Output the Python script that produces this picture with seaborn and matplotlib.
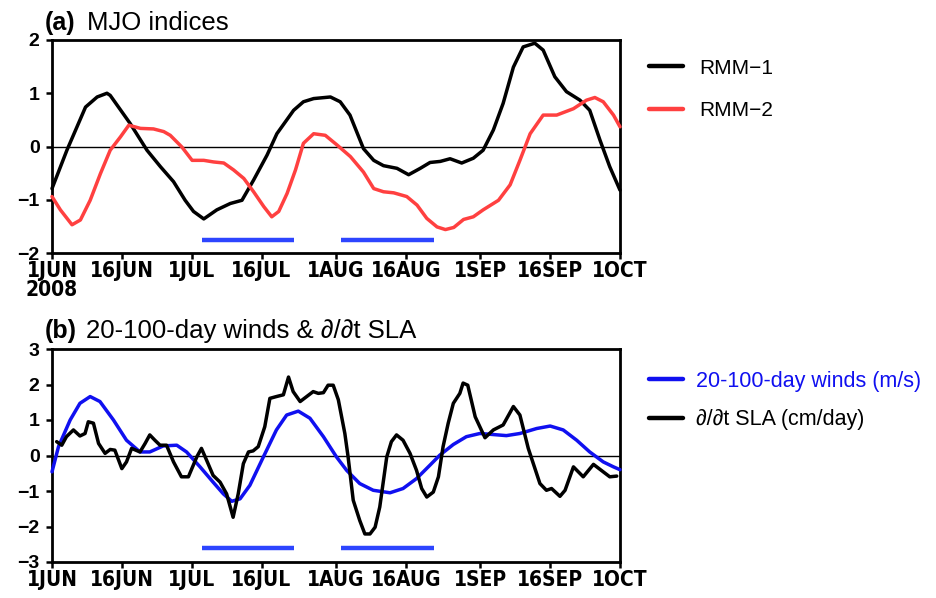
import numpy as np
import pandas as pd
import matplotlib
matplotlib.use("Agg")
import matplotlib.pyplot as plt
import seaborn as sns
from matplotlib import font_manager

# ---------------- data (days since 1 Jun 2008) ----------------
rmm1_day = [0, 3.2, 7.2, 9.7, 11.8, 12.5, 16.8, 20.4, 23.3, 26.1, 28.6, 30.4, 32.6, 35.4,
            38.3, 40.8, 43.3, 46.2, 48.3, 51.9, 54.0, 56.2, 59.8, 61.9, 64.0, 66.9, 69.1,
            71.2, 74.1, 76.6, 79.1, 81.2, 83.4, 85.5, 88.0, 90.5, 92.6, 94.8, 96.9, 99.1,
            101.2, 103.7, 105.5, 108.0, 110.5, 113.4, 115.5, 117.7, 119.8, 122]
rmm1_val = [-0.79, -0.07, 0.74, 0.93, 1.0, 0.96, 0.43, -0.07, -0.38, -0.66, -1.01, -1.22,
            -1.36, -1.19, -1.07, -1.01, -0.63, -0.16, 0.24, 0.68, 0.84, 0.90, 0.93, 0.84,
            0.59, -0.04, -0.26, -0.36, -0.41, -0.53, -0.41, -0.30, -0.28, -0.23, -0.31,
            -0.22, -0.07, 0.31, 0.81, 1.49, 1.87, 1.94, 1.81, 1.31, 1.03, 0.87, 0.68, 0.12,
            -0.38, -0.82]

rmm2_day = [0, 1.8, 4.3, 6.1, 8.2, 10.4, 12.5, 14.7, 16.5, 19.0, 21.8, 24.0, 25.4, 27.9,
            30.1, 32.6, 34.7, 36.9, 39.0, 41.2, 43.3, 45.5, 47.2, 48.7, 50.5, 52.3, 54.0,
            56.2, 58.7, 61.2, 64.1, 66.9, 69.1, 71.2, 73.4, 76.2, 78.4, 80.5, 82.7, 84.5,
            86.3, 88.4, 90.5, 92.6, 95.9, 98.4, 100.5, 102.7, 105.5, 108.4, 112.0, 114.8,
            116.6, 118.4, 120.6, 122]
rmm2_val = [-0.94, -1.19, -1.47, -1.38, -1.01, -0.51, -0.07, 0.18, 0.40, 0.34, 0.33, 0.28,
            0.21, -0.01, -0.26, -0.26, -0.29, -0.31, -0.44, -0.60, -0.85, -1.13, -1.32,
            -1.22, -0.88, -0.44, 0.06, 0.24, 0.21, 0.03, -0.19, -0.48, -0.79, -0.85, -0.87,
            -0.94, -1.10, -1.35, -1.51, -1.56, -1.52, -1.37, -1.32, -1.19, -1.01, -0.72,
            -0.26, 0.24, 0.59, 0.59, 0.71, 0.87, 0.92, 0.84, 0.59, 0.37]

wind_day = [0, 1.4, 3.9, 6.0, 8.2, 10.3, 13.2, 16.0, 18.9, 21.0, 23.9, 26.8, 28.9, 31.8,
            34.6, 36.8, 38.6, 40.4, 42.5, 45.4, 48.2, 50.4, 52.9, 55.4, 58.3, 61.1, 63.3,
            66.1, 69.0, 72.6, 75.4, 78.3, 81.2, 83.3, 86.2, 89.0, 91.9, 94.8, 97.6, 100.5,
            104.1, 107.0, 109.8, 112.7, 115.5, 118.4, 120.6, 122]
wind_val = [-0.46, 0.25, 1.0, 1.47, 1.66, 1.52, 1.0, 0.43, 0.10, 0.10, 0.27, 0.29, 0.10,
            -0.32, -0.75, -1.08, -1.29, -1.22, -0.84, -0.04, 0.72, 1.14, 1.25, 1.05, 0.53,
            -0.04, -0.42, -0.79, -0.98, -1.05, -0.93, -0.65, -0.27, 0.01, 0.31, 0.53, 0.62,
            0.59, 0.56, 0.62, 0.76, 0.83, 0.72, 0.43, 0.10, -0.18, -0.32, -0.40]

sla_day = [1.0, 2.1, 3.1, 4.6, 6.0, 7.1, 7.8, 8.9, 10.0, 11.4, 12.5, 13.5, 15.0, 16.0,
           17.1, 18.9, 20.0, 21.0, 22.1, 23.2, 24.6, 26.1, 27.8, 29.3, 31.1, 32.1, 33.2,
           34.6, 36.1, 37.5, 38.9, 40.0, 41.1, 42.2, 43.2, 44.3, 45.7, 46.8, 48.2, 49.7,
           50.8, 51.8, 53.3, 54.7, 56.1, 57.2, 58.3, 59.3, 60.4, 61.5, 62.9, 63.6, 64.7,
           66.1, 67.2, 68.3, 69.4, 70.4, 71.9, 72.9, 74.0, 75.4, 76.9, 78.3, 79.4, 80.5,
           81.9, 83.0, 84.0, 85.1, 86.2, 87.6, 88.3, 89.3, 90.9, 93.0, 94.8, 96.9, 99.1,
           100.5, 102.3, 104.8, 106.2, 107.3, 109.1, 110.2, 112.0, 114.1, 116.3, 118.4,
           119.8, 121.3]
sla_val = [0.39, 0.29, 0.53, 0.72, 0.55, 0.62, 0.95, 0.91, 0.34, 0.06, 0.17, 0.15, -0.37,
           -0.18, 0.20, 0.10, 0.34, 0.58, 0.43, 0.29, 0.29, -0.18, -0.60, -0.60, -0.04,
           0.20, -0.13, -0.56, -0.75, -1.08, -1.74, -1.08, -0.23, 0.10, 0.13, 0.25, 0.81,
           1.61, 1.66, 1.71, 2.21, 1.80, 1.52, 1.66, 1.80, 1.75, 1.77, 1.98, 1.98, 1.57,
           0.62, -0.04, -1.26, -1.83, -2.21, -2.21, -2.02, -1.45, -0.04, 0.39, 0.58, 0.43,
           0.06, -0.42, -0.93, -1.17, -1.03, -0.60, 0.25, 0.91, 1.47, 1.75, 2.04, 1.98,
           1.09, 0.50, 0.72, 0.86, 1.38, 1.14, 0.20, -0.79, -0.98, -0.93, -1.15, -0.98,
           -0.32, -0.60, -0.25, -0.46, -0.60, -0.58]

bar_start = [32.2, 62.1]
bar_end = [52.0, 82.1]
bar_level_a = -1.75
bar_level_b = -2.6

tick_days = [0, 15, 30, 45, 61, 76, 92, 107, 122]
tick_labels_a = ["1JUN\n2008", "16JUN", "1JUL", "16JUL", "1AUG", "16AUG", "1SEP", "16SEP", "1OCT"]
tick_labels_b = ["1JUN", "16JUN", "1JUL", "16JUL", "1AUG", "16AUG", "1SEP", "16SEP", "1OCT"]

# ---------------- style ----------------
sns.set_style("ticks")
avail = {f.name for f in font_manager.fontManager.ttflist}
base_font = "Liberation Sans" if "Liberation Sans" in avail else "DejaVu Sans"
narrow_font = "Liberation Sans Narrow" if "Liberation Sans Narrow" in avail else "DejaVu Sans"
plt.rcParams["font.family"] = [base_font, "DejaVu Sans"]
for k in ("text.color", "axes.labelcolor", "xtick.color", "ytick.color", "axes.edgecolor"):
    plt.rcParams[k] = "black"

RED = "#ff4040"
BAR_BLUE = "#2d45ff"
WIND_BLUE = "#1010f0"

fig = plt.figure(figsize=(9.36, 5.98), dpi=100)
W, H = 936, 598
def ax_rect(l, r, t, b):
    return [l / W, 1 - b / H, (r - l) / W, (b - t) / H]

ax1 = fig.add_axes(ax_rect(52, 620, 40, 253))
ax2 = fig.add_axes(ax_rect(52, 620, 349, 562))

df_a = pd.concat([
    pd.DataFrame({"day": rmm1_day, "val": rmm1_val, "series": "RMM\u22121"}),
    pd.DataFrame({"day": rmm2_day, "val": rmm2_val, "series": "RMM\u22122"}),
])
df_b = pd.concat([
    pd.DataFrame({"day": wind_day, "val": wind_val, "series": "20-100-day winds (m/s)"}),
    pd.DataFrame({"day": sla_day, "val": sla_val, "series": "\u2202/\u2202t SLA (cm/day)"}),
])

for ax in (ax1, ax2):
    ax.axhline(0, color="black", lw=1.0, zorder=1)

sns.lineplot(data=df_a, x="day", y="val", hue="series", ax=ax1,
             palette={"RMM\u22121": "black", "RMM\u22122": RED}, lw=2.5, sort=False,
             estimator=None, zorder=3, clip_on=False)
sns.lineplot(data=df_b, x="day", y="val", hue="series", ax=ax2,
             palette={"20-100-day winds (m/s)": WIND_BLUE, "\u2202/\u2202t SLA (cm/day)": "black"},
             lw=2.5, sort=False, estimator=None, zorder=3, clip_on=False)
for ax in (ax1, ax2):
    for ln in ax.get_lines():
        ln.set_solid_joinstyle("round")
        ln.set_solid_capstyle("round")

for s, e in zip(bar_start, bar_end):
    ax1.hlines(bar_level_a, s, e, color=BAR_BLUE, lw=3.2, zorder=2)
    ax2.hlines(bar_level_b, s, e, color=BAR_BLUE, lw=3.2, zorder=2)

xfont = dict(family=[narrow_font, "DejaVu Sans"], fontweight="bold", fontstretch="condensed")
xsize = 15

for ax, yl, labels in ((ax1, (-2, 2), tick_labels_a), (ax2, (-3, 3), tick_labels_b)):
    ax.set_xlim(0, 122)
    ax.set_ylim(*yl)
    ax.set_xlabel("")
    ax.set_ylabel("")
    ax.set_xticks(tick_days)
    ax.set_xticklabels(labels, fontsize=xsize, linespacing=0.9, **xfont)
    ax.set_yticks(range(yl[0], yl[1] + 1))
    ax.set_yticklabels([str(v).replace("-", "\u2212") for v in range(yl[0], yl[1] + 1)],
                       fontsize=14, fontweight="bold")
    ax.tick_params(direction="out", length=4, width=1.8, pad=2)
    ax.tick_params(axis="y", pad=5)
    for sp in ax.spines.values():
        sp.set_linewidth(2.0)
        sp.set_visible(True)
        sp.set_color("black")

leg1 = ax1.legend(loc="center left", bbox_to_anchor=(649 / W, 1 - 89.5 / H),
                  bbox_transform=fig.transFigure, frameon=False, fontsize=15,
                  handlelength=1.65, handletextpad=0.75, labelspacing=1.15,
                  borderpad=0, borderaxespad=0)
for l in leg1.get_lines():
    l.set_linewidth(3.2)

leg2 = ax2.legend(loc="center left", bbox_to_anchor=(649 / W, 1 - 400.5 / H),
                  bbox_transform=fig.transFigure, frameon=False, fontsize=15.5,
                  handlelength=1.6, handletextpad=0.6, labelspacing=0.82,
                  borderpad=0, borderaxespad=0, labelcolor="linecolor")
for l in leg2.get_lines():
    l.set_linewidth(3.2)

# panel titles
fig.text(45 / W, 1 - 30 / H, "(a)", fontsize=18, fontweight="bold", va="baseline")
fig.text(87 / W, 1 - 30 / H, "MJO indices", fontsize=18.5, va="baseline")
fig.text(45 / W, 1 - 338 / H, "(b)", fontsize=18, fontweight="bold", va="baseline")
fig.text(86 / W, 1 - 338 / H, "20-100-day winds & \u2202/\u2202t SLA", fontsize=18.5, va="baseline")

fig.savefig("out.png", dpi=100)
